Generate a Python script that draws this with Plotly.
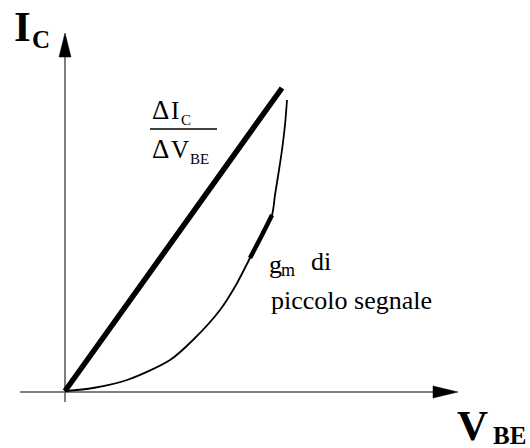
import plotly.graph_objects as go

# ---- data (chart units: origin at the axes crossing) ----
vbe_curve = [0, 28, 62, 105, 128, 155, 171, 185, 196, 207, 210, 214, 217, 220, 222]
ic_curve = [0, 3, 11, 31, 51, 81, 106, 133, 154, 176, 196, 221, 241, 266, 291]
vbe_line = [0, 217]
ic_line = [0, 303]
vbe_tangent = [185, 196, 207]
ic_tangent = [133, 154, 176]

W, H = 530, 448
OX, OY = 65, 391        # pixel position of the origin


def X(px):
    return px - OX


def Y(py):
    return OY - py


fig = go.Figure()
fig.add_trace(go.Scatter(x=vbe_curve, y=ic_curve, mode="lines",
                         line=dict(color="black", width=1.8, shape="spline", smoothing=0.8),
                         hoverinfo="skip"))
fig.add_trace(go.Scatter(x=vbe_line, y=ic_line, mode="lines",
                         line=dict(color="black", width=5.5),
                         hoverinfo="skip"))
fig.add_trace(go.Scatter(x=vbe_tangent, y=ic_tangent, mode="lines",
                         line=dict(color="black", width=4.5, shape="spline"),
                         hoverinfo="skip"))

shapes = [
    dict(type="line", x0=X(65), y0=Y(402), x1=X(65), y1=Y(52),
         line=dict(color="#555555", width=1.5), layer="below"),
    dict(type="line", x0=X(20), y0=Y(392), x1=X(440), y1=Y(392),
         line=dict(color="#555555", width=1.5), layer="below"),
    dict(type="path",
         path=f"M {X(65)},{Y(33)} L {X(59)},{Y(57)} L {X(71)},{Y(57)} Z",
         fillcolor="black", line=dict(color="black", width=0.5)),
    dict(type="path",
         path=f"M {X(458)},{Y(392)} L {X(433)},{Y(386)} L {X(433)},{Y(398)} Z",
         fillcolor="black", line=dict(color="black", width=0.5)),
    dict(type="line", x0=X(150), y0=Y(129), x1=X(217), y1=Y(129),
         line=dict(color="black", width=1.5)),
]

SERIF = "Liberation Serif"


def txt(s, px, py, size, bold=False, anchor="left"):
    if bold:
        s = f"<b>{s}</b>"
    return dict(text=s, x=X(px), y=Y(py), xref="x", yref="y", showarrow=False,
                xanchor=anchor, yanchor="middle", borderpad=0,
                font=dict(family=SERIF, size=size, color="black"))


annotations = [
    txt("I", 13, 26, 43, bold=True),
    txt("C", 31, 39, 25, bold=True),
    txt("V", 456, 425, 43, bold=True),
    txt("BE", 527, 435, 25, bold=True, anchor="right"),
    txt("Δ", 151, 110, 27),
    txt("I", 170, 110, 25),
    txt("C", 180, 120, 15),
    txt("Δ", 151, 149, 27),
    txt("V", 170, 149, 25),
    txt("BE", 189, 159, 15),
    txt("g", 268, 264, 26),
    txt("m", 280, 270, 18),
    txt("di", 310, 261, 26),
    txt("piccolo segnale", 270, 300, 26),
]

fig.update_layout(
    width=W, height=H,
    margin=dict(l=0, r=0, t=0, b=0),
    paper_bgcolor="white", plot_bgcolor="white",
    showlegend=False,
    xaxis=dict(range=[X(0), X(W)], visible=False, fixedrange=True),
    yaxis=dict(range=[Y(H), Y(0)], visible=False, fixedrange=True),
    shapes=shapes,
    annotations=annotations,
)

fig.write_html("out.html",
               config={"displayModeBar": False, "staticPlot": True},
               post_script="document.body.style.margin='0';document.body.style.overflow='hidden';")
